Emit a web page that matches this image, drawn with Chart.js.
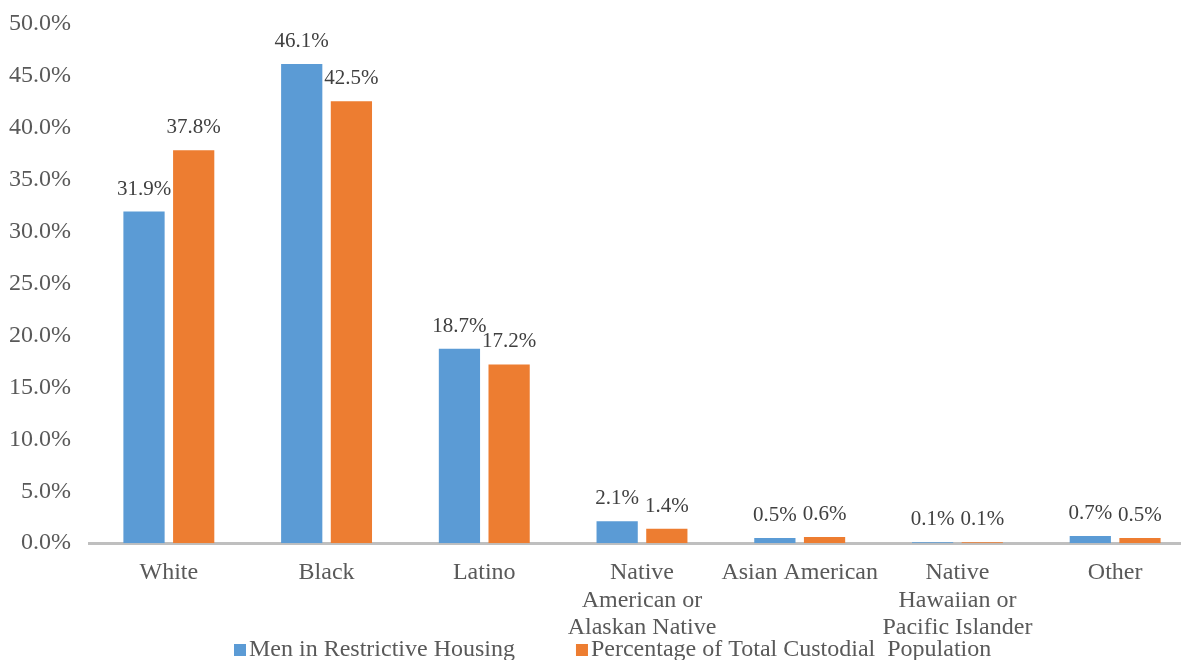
<!DOCTYPE html>
<html>
<head>
<meta charset="utf-8">
<script src="https://cdn.jsdelivr.net/npm/chart.js@4.4.1/dist/chart.umd.min.js"></script>
<style>
  html, body { margin: 0; padding: 0; background: #ffffff; overflow: hidden; }
  #wrap { width: 1181px; height: 660px; position: relative; overflow: hidden; }
  #c { position: absolute; left: 0; top: -10px; }
</style>
</head>
<body>
<div id="wrap"><canvas id="c" width="1194" height="670"></canvas></div>
<script>
const categories = [
  "White",
  "Black",
  "Latino",
  ["Native", "American or", "Alaskan Native"],
  "Asian American",
  ["Native", "Hawaiian or", "Pacific Islander"],
  "Other"
];
const seriesNames = ["Men in Restrictive Housing", "Percentage of Total Custodial  Population"];
const menRestrictive = [31.9, 46.1, 18.7, 2.1, 0.5, 0.1, 0.7];
const totalCustodial = [37.8, 42.5, 17.2, 1.4, 0.6, 0.1, 0.5];
const yTicks = [0, 5, 10, 15, 20, 25, 30, 35, 40, 45, 50];

const FONT = "'Liberation Serif', 'Times New Roman', serif";
const BLUE = "#5B9BD5";
const ORANGE = "#ED7D31";

const dataLabels = {
  id: 'dataLabels',
  afterDatasetsDraw(chart) {
    const ctx = chart.ctx;
    ctx.save();
    ctx.font = "21px " + FONT;
    ctx.fillStyle = "#404040";
    ctx.textAlign = "center";
    ctx.textBaseline = "alphabetic";
    chart.data.datasets.forEach((ds, di) => {
      const meta = chart.getDatasetMeta(di);
      meta.data.forEach((el, i) => {
        ctx.fillText(ds.data[i].toFixed(1) + "%", el.x, el.y - 17);
      });
    });
    ctx.restore();
  }
};

const customLegend = {
  id: 'customLegend',
  afterDraw(chart) {
    const ctx = chart.ctx;
    ctx.save();
    ctx.font = "24px " + FONT;
    ctx.textBaseline = "middle";
    ctx.textAlign = "left";
    const y = chart.height - 10;
    let x = 234;
    const colors = [BLUE, ORANGE];
    seriesNames.forEach((name, i) => {
      ctx.fillStyle = colors[i];
      ctx.fillRect(x, y - 6, 12, 12);
      x += 15;
      ctx.fillStyle = "#595959";
      ctx.fillText(name, x, y);
      x += ctx.measureText(name).width + 61;
    });
    ctx.restore();
  }
};

new Chart(document.getElementById('c'), {
  type: 'bar',
  data: {
    labels: categories,
    datasets: [
      { label: seriesNames[0], data: menRestrictive, backgroundColor: BLUE, categoryPercentage: 0.63, barPercentage: 0.83 },
      { label: seriesNames[1], data: totalCustodial, backgroundColor: ORANGE, categoryPercentage: 0.63, barPercentage: 0.83 }
    ]
  },
  options: {
    responsive: false,
    animation: false,
    layout: { padding: { left: -10, right: 0, top: 0, bottom: 2 } },
    plugins: {
      legend: { display: false },
      tooltip: { enabled: false }
    },
    scales: {
      x: {
        grid: { display: false, drawTicks: false },
        border: { display: true, color: "#BFBFBF", width: 3 },
        ticks: {
          color: "#595959",
          font: { family: FONT, size: 24, lineHeight: 1.15 },
          padding: 16,
          maxRotation: 0,
          autoSkip: false
        }
      },
      y: {
        min: 0,
        max: 50,
        afterBuildTicks(axis) { axis.ticks = yTicks.map(v => ({ value: v })); },
        grid: { display: false, drawTicks: false },
        border: { display: false },
        ticks: {
          color: "#595959",
          font: { family: FONT, size: 24 },
          padding: 19,
          callback: v => Number(v).toFixed(1) + "%"
        }
      }
    }
  },
  plugins: [dataLabels, customLegend]
});
</script>
</body>
</html>
